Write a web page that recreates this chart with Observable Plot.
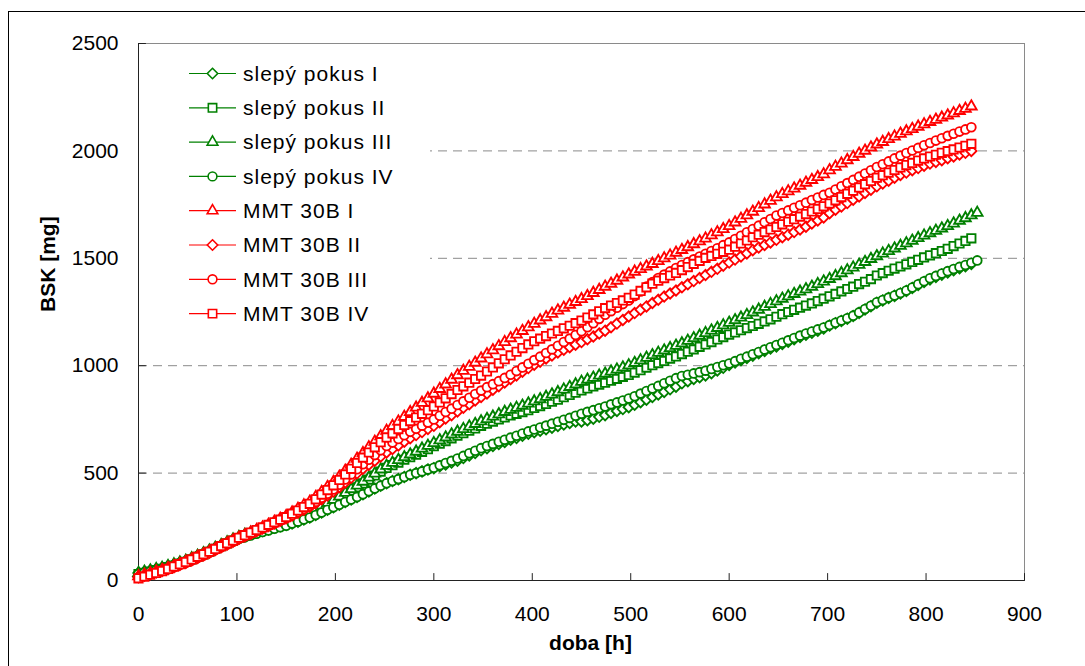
<!DOCTYPE html>
<html>
<head>
<meta charset="utf-8">
<script src="https://cdn.jsdelivr.net/npm/d3@7"></script>
<script src="https://cdn.jsdelivr.net/npm/@observablehq/plot@0.6"></script>
<style>
  html, body { margin: 0; padding: 0; background: #fff; }
  #wrap { position: relative; width: 1085px; height: 666px; overflow: hidden; background: #fff; font-family: "Liberation Sans", Arial, sans-serif; }
  #frameBorder { position: absolute; left: 8px; top: 11px; width: 1100px; height: 700px; border: 1px solid #000; }
  #chart { position: absolute; left: 0; top: 0; }
  #legend { position: absolute; left: 139px; top: 44px; }
</style>
</head>
<body>
<div id="wrap">
  <div id="frameBorder"></div>
  <div id="chart"></div>
  <div id="legend"></div>
</div>
<script>
// sampling times [h]
const hours = [0,6,12,18,24,30,36,42,48,54,60,66,72,78,84,90,96,102,108,114,120,126,132,138,144,150,156,162,168,174,180,186,192,198,204,210,216,222,228,234,240,246,252,258,264,270,276,282,288,294,300,306,312,318,324,330,336,342,348,354,360,366,372,378,384,390,396,402,408,414,420,426,432,438,444,450,456,462,468,474,480,486,492,498,504,510,516,522,528,534,540,546,552,558,564,570,576,582,588,594,600,606,612,618,624,630,636,642,648,654,660,666,672,678,684,690,696,702,708,714,720,726,732,738,744,750,756,762,768,774,780,786,792,798,804,810,816,822,828,834,840,846,852];

// BSK [mg] per series
const slepyI = [35,41,47,53,59, 67,75,84,92, 103,115,127,139, 151,163,175,187, 198,206,215,223, 231,238,246,253,259, 266,274,284,293, 305,317,329,341, 353,365,377,389, 402,415,428,441, 453,463,472,482, 492,500,508,517,523, 532,540,549,558, 570,582,594,606, 616,626,636,645, 655,664,674,683, 690,697,704,711, 719,726,733,740,740, 746,753,762,770, 780,789,798,807, 818,830,842,854, 866,878,890,902, 918,928,938,946, 955,965,978,990,1003, 1015,1026,1036,1047, 1058,1069,1080,1090, 1101,1112,1123,1134, 1144,1153,1163,1173, 1187,1198,1208,1219, 1231,1246,1262,1277,1293, 1304,1315,1325,1336, 1348,1362,1376,1390, 1402,1413,1424,1434, 1444,1454,1463,1473];
const slepyII = [30,36,42,48,54, 62,70,79,87, 98,110,122,134, 147,160,173,186, 198,208,217,227, 237,245,253,262,270, 281,292,302,313, 327,341,356,370, 385,402,418,434, 452,470,489,507, 524,537,549,562, 574,586,599,611,625, 637,649,662,674, 686,697,708,720, 730,740,750,759, 768,776,784,793, 803,812,822,832, 842,853,864,874,885, 894,903,912,921, 930,939,948,957, 968,979,991,1002, 1012,1022,1033,1043, 1054,1065,1076,1088, 1099,1110,1122,1133,1145, 1155,1165,1175,1185, 1195,1206,1216,1228, 1240,1250,1260,1270, 1280,1290,1301,1312, 1323,1334,1346,1357, 1368,1380,1391,1403,1420, 1431,1442,1452,1462, 1472,1483,1493,1504, 1514,1524,1534,1544, 1557,1569,1581,1593];
const slepyIII = [35,41,47,53,59, 67,75,84,92, 103,115,127,139, 152,165,178,191, 203,213,222,232, 242,250,258,267,275, 286,297,307,318, 332,346,361,375, 391,408,425,442, 460,479,498,517, 534,548,561,574, 587,600,614,627,640, 653,666,680,693, 705,717,729,741, 752,763,774,785, 795,804,814,824, 834,844,855,866, 877,889,901,913,925, 935,944,954,963, 973,982,992,1002, 1013,1025,1037,1049, 1060,1071,1082,1093, 1104,1116,1128,1140, 1152,1164,1176,1188,1200, 1212,1224,1236,1248, 1261,1274,1287,1300, 1312,1323,1334,1345, 1356,1368,1380,1392, 1404,1417,1431,1444, 1457,1470,1483,1497,1510, 1522,1534,1546,1558, 1570,1582,1594,1606, 1617,1628,1639,1650, 1662,1675,1687,1700,1712];
const slepyIV = [30,36,42,48,54, 62,70,79,87, 98,110,122,134, 146,158,170,182, 193,201,210,218, 226,233,241,248,255, 265,274,284,293, 305,317,329,341, 353,365,377,389, 402,415,428,441, 453,463,472,482, 492,500,508,517,525, 536,547,557,568, 580,592,604,616, 626,636,646,655, 665,674,684,694, 703,712,721,730, 739,748,757,767,776, 785,793,802,810, 820,829,838,847, 858,870,882,894, 906,918,930,942, 952,958,964,970, 977,985,994,1002,1010, 1021,1032,1042,1053, 1064,1075,1086,1096, 1107,1118,1129,1140, 1150,1159,1169,1178, 1189,1200,1210,1221, 1233,1248,1264,1279,1295, 1306,1317,1327,1338, 1350,1364,1379,1393, 1407,1418,1429,1440, 1450,1460,1469,1479,1490];
const mmtI = [20,27,34,42,49, 58,67,77,87, 98,110,122,134, 147,160,173,186, 199,211,223,235, 247,260,274,287,300, 317,334,350,367, 389,412,435,458, 483,511,539,567, 593,620,646,672, 697,719,740,762, 784,805,827,848,870, 892,913,935,956, 976,995,1014,1034, 1053,1072,1091,1110, 1128,1145,1162,1179, 1195,1211,1226,1242, 1257,1270,1284,1297,1310, 1324,1339,1353,1368, 1382,1396,1411,1425, 1438,1450,1462,1474, 1487,1500,1513,1526, 1539,1552,1566,1579, 1592,1607,1621,1636,1650, 1667,1684,1700,1717, 1734,1751,1768,1784, 1799,1812,1825,1838, 1852,1865,1878,1891, 1910,1926,1941,1957, 1972,1987,2001,2016,2030, 2042,2055,2067,2080, 2091,2102,2113,2124, 2135,2145,2155,2165, 2175,2186,2196,2207];
const mmtII = [15,22,29,37,44, 53,62,72,82, 93,105,117,129, 142,155,168,181, 194,206,218,230, 242,254,266,278,290, 303,316,330,343, 360,378,396,414, 434,456,478,499, 520,539,558,577, 596,612,629,646, 662,677,691,706,720, 737,754,770,787, 804,821,838,854, 871,888,905,922, 938,955,972,989, 1005,1019,1034,1048, 1062,1074,1086,1098,1110, 1123,1136,1150,1163, 1179,1196,1213,1229, 1245,1261,1276,1292, 1307,1322,1336,1350, 1365,1379,1394,1408, 1422,1437,1451,1466,1480, 1494,1509,1523,1538, 1550,1562,1574,1586, 1598,1610,1622,1634, 1647,1662,1676,1690, 1710,1726,1741,1757, 1773,1788,1804,1819,1835, 1848,1861,1875,1888, 1899,1910,1920,1931, 1941,1949,1957,1966, 1974,1983,1991,2000];
const mmtIII = [15,22,29,37,44, 53,62,72,82, 93,105,117,129, 142,155,168,181, 194,206,218,230, 242,254,266,278,290, 304,319,333,348, 366,385,404,424, 446,470,494,518, 541,562,584,606, 626,642,659,676, 692,706,721,735,750, 767,784,800,817, 834,851,868,884, 900,914,928,943, 958,975,992,1009, 1026,1042,1059,1076, 1093,1110,1126,1143,1160, 1179,1198,1218,1237, 1254,1270,1287,1304, 1324,1346,1368,1389, 1408,1424,1439,1455, 1469,1482,1495,1508, 1521,1534,1547,1561,1574, 1590,1605,1621,1636, 1652,1668,1683,1699, 1711,1723,1735,1747, 1759,1771,1783,1795, 1805,1820,1835,1850, 1865,1880,1895,1910,1925, 1938,1951,1965,1978, 1990,2002,2014,2026, 2037,2048,2059,2070, 2080,2090,2100,2110];
const mmtIV = [10,18,27,35,44, 54,65,76,86, 98,110,122,134, 147,160,173,186, 199,211,223,235, 247,259,271,283,295, 311,326,342,357, 378,400,421,443, 468,494,520,547, 572,596,620,644, 666,685,705,724, 742,759,776,793,810, 829,848,868,887, 904,921,938,954, 973,992,1011,1030, 1048,1065,1082,1099, 1114,1126,1138,1150, 1162,1174,1186,1198,1210, 1224,1239,1253,1268, 1280,1292,1304,1316, 1331,1348,1365,1382, 1396,1408,1420,1432, 1445,1459,1474,1488, 1502,1511,1521,1530,1540, 1554,1569,1583,1598, 1610,1622,1634,1646, 1658,1670,1682,1694, 1706,1718,1730,1742, 1755,1770,1785,1800, 1815,1830,1845,1860,1875, 1887,1899,1911,1923, 1934,1944,1955,1965, 1974,1982,1991,1999, 2007,2016,2024,2033];

const seriesNames = ["slepý pokus I","slepý pokus II","slepý pokus III","slepý pokus IV","MMT 30B I","MMT 30B II","MMT 30B III","MMT 30B IV"];
const seriesValues = [slepyI, slepyII, slepyIII, slepyIV, mmtI, mmtII, mmtIII, mmtIV];
const seriesColors = ["#008000","#008000","#008000","#008000","#FF0000","#FF0000","#FF0000","#FF0000"];
const seriesSymbols = ["diamond2","square2","triangle2","circle","triangle2","diamond2","circle","square2"];
const seriesR = {diamond2: 4.7, square2: 5.3, triangle2: 5.1, circle: 4.4};

const xTicks = [0,100,200,300,400,500,600,700,800,900];
const yTicks = [0,500,1000,1500,2000,2500];
const yGrid = [500,1000,1500,2000];
const xLabel = "doba [h]";
const yLabel = "BSK [mg]";

const series = seriesNames.map((name, k) => ({
  name, color: seriesColors[k], symbol: seriesSymbols[k],
  rows: seriesValues[k].map((v, i) => ({h: hours[i], v}))
}));

const seriesMarks = series.flatMap(s => [
  Plot.line(s.rows, {x: "h", y: "v", stroke: s.color, strokeWidth: 1.2}),
  Plot.dot(s.rows, {x: "h", y: "v", symbol: s.symbol, r: seriesR[s.symbol], stroke: s.color, fill: "white", strokeWidth: 1.85})
]);

// inward tick shape
const tickShape = {draw(context, l) { context.moveTo(0, 0); context.lineTo(0, -l); }};

const chart = Plot.plot({
  width: 1085, height: 666,
  marginLeft: 138, marginRight: 61, marginTop: 43, marginBottom: 86,
  x: {domain: [0, 900]},
  y: {domain: [0, 2500]},
  style: {fontFamily: '"Liberation Sans", Arial, sans-serif', fontSize: "21px", color: "#000", background: "transparent", overflow: "visible"},
  marks: [
    Plot.gridY(yGrid, {stroke: "#8a8a8a", strokeOpacity: 1, strokeWidth: 1, strokeDasharray: "9,6"}),
    Plot.frame({stroke: "#8a8a8a"}),
    Plot.vector(xTicks, {x: d => d, frameAnchor: "bottom", length: 7, rotate: 0, anchor: "start", shape: tickShape, stroke: "#222", strokeWidth: 1}),
    Plot.vector(yTicks, {y: d => d, frameAnchor: "left", length: 7, rotate: 90, anchor: "start", shape: tickShape, stroke: "#222", strokeWidth: 1}),
    Plot.axisX(xTicks, {tickSize: 0, tickPadding: 26, tickFormat: d => String(d), label: null}),
    Plot.axisY(yTicks, {tickSize: 0, tickPadding: 20, tickFormat: d => String(d), label: null}),
    Plot.ruleX([0], {stroke: "#222"}),
    Plot.ruleY([0], {stroke: "#222"}),
    Plot.text([xLabel], {frameAnchor: "bottom", dy: 69, dx: 9, fontWeight: "bold", fontSize: 21}),
    Plot.text([yLabel], {frameAnchor: "left", dx: -90, rotate: -90, fontWeight: "bold", fontSize: 21}),
    ...seriesMarks
  ]
});
document.getElementById("chart").appendChild(chart);

// legend (inside plot area, white box)
const lw = 291, lh = 288;
const svg = d3.select("#legend").append("svg").attr("width", lw).attr("height", lh);
svg.append("rect").attr("width", lw).attr("height", lh).attr("fill", "white");
const symMap = {diamond2: d3.symbolDiamond2, square2: d3.symbolSquare2, triangle2: d3.symbolTriangle2, circle: d3.symbolCircle};
series.forEach((s, i) => {
  const y = 29.5 + i * 34.3;
  const g = svg.append("g").attr("transform", `translate(0,${y})`);
  g.append("line").attr("x1", 50).attr("x2", 97).attr("y1", 0).attr("y2", 0).attr("stroke", s.color).attr("stroke-width", 1.2);
  const r = seriesR[s.symbol];
  g.append("path").attr("transform", "translate(73.5,0)")
    .attr("d", d3.symbol(symMap[s.symbol], Math.PI * r * r)())
    .attr("fill", "white").attr("stroke", s.color).attr("stroke-width", 1.6);
  g.append("text").attr("x", 104).attr("y", 0).attr("dy", "0.35em")
    .attr("font-size", 21).attr("letter-spacing", "1px")
    .attr("font-family", '"Liberation Sans", Arial, sans-serif')
    .attr("fill", "#000").text(s.name);
});
</script>
</body>
</html>
